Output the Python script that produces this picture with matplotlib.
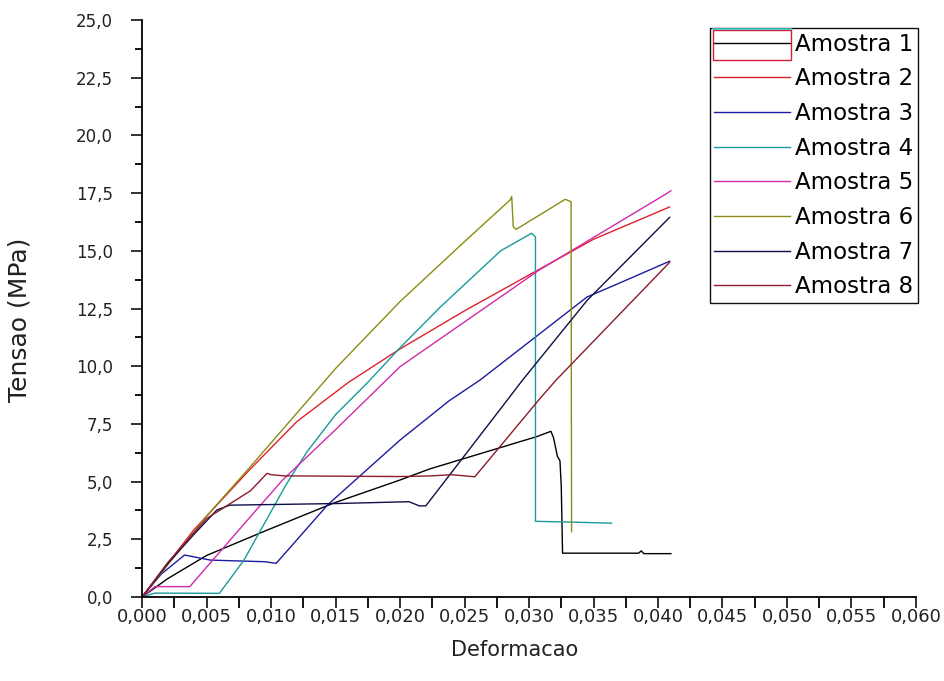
import matplotlib
matplotlib.use("Agg")
import matplotlib.pyplot as plt
from matplotlib.ticker import MultipleLocator, FuncFormatter
from matplotlib.patches import Rectangle
from matplotlib.lines import Line2D

labels = ["Amostra 1", "Amostra 2", "Amostra 3", "Amostra 4",
          "Amostra 5", "Amostra 6", "Amostra 7", "Amostra 8"]
colors = ["#000000", "#e0202e", "#1c1ca0", "#1a9a9a",
          "#d22aa8", "#8c8c12", "#0e0e4a", "#8a1c2c"]

x1 = [0, 0.002, 0.005, 0.0097, 0.0148, 0.020, 0.0223, 0.0306, 0.0317, 0.0319, 0.0322, 0.0324, 0.0325, 0.0326, 0.0385, 0.0387, 0.0389, 0.041]
y1 = [0, 0.8, 1.8, 2.9, 4.06, 5.07, 5.55, 6.95, 7.18, 6.9, 6.1, 5.9, 4.8, 1.9, 1.9, 2.0, 1.88, 1.88]

x2 = [0, 0.004, 0.0084, 0.012, 0.016, 0.020, 0.025, 0.0308, 0.035, 0.0409]
y2 = [0, 2.9, 5.55, 7.6, 9.3, 10.75, 12.4, 14.2, 15.5, 16.9]

x3 = [0, 0.0015, 0.0033, 0.0053, 0.0095, 0.0104, 0.0144, 0.020, 0.0238, 0.0262, 0.0345, 0.037, 0.0409]
y3 = [0, 1.0, 1.82, 1.6, 1.53, 1.46, 4.0, 6.8, 8.5, 9.4, 13.0, 13.6, 14.55]

x4 = [0, 0.001, 0.006, 0.0079, 0.0097, 0.0112, 0.0128, 0.015, 0.0175, 0.020, 0.0231, 0.0278, 0.0302, 0.0305, 0.0305, 0.033, 0.0364]
y4 = [0, 0.17, 0.16, 1.6, 3.4, 4.9, 6.3, 7.9, 9.3, 10.8, 12.55, 15.0, 15.76, 15.6, 3.28, 3.25, 3.2]

x5 = [0, 0.001, 0.0037, 0.0084, 0.0109, 0.015, 0.020, 0.0308, 0.0407, 0.041]
y5 = [0, 0.45, 0.45, 3.48, 5.07, 7.25, 9.98, 14.17, 17.49, 17.6]

x6 = [0, 0.005, 0.0084, 0.015, 0.020, 0.025, 0.02853, 0.02866, 0.02878, 0.029, 0.0328, 0.03326, 0.0333]
y6 = [0, 3.5, 5.65, 9.9, 12.8, 15.4, 17.2, 17.35, 16.04, 15.93, 17.23, 17.13, 2.83]

x7 = [0, 0.002, 0.004, 0.0058, 0.0068, 0.015, 0.0207, 0.0215, 0.022, 0.0282, 0.0295, 0.0345, 0.0409]
y7 = [0, 1.45, 2.7, 3.77, 3.98, 4.05, 4.13, 3.95, 3.95, 8.45, 9.4, 12.85, 16.45]

x8 = [0, 0.002, 0.005, 0.0084, 0.0097, 0.010, 0.011, 0.020, 0.0225, 0.024, 0.0258, 0.03085, 0.0321, 0.0409]
y8 = [0, 1.5, 3.4, 4.6, 5.36, 5.3, 5.25, 5.22, 5.25, 5.3, 5.21, 8.6, 9.4, 14.5]

xs = [x1, x2, x3, x4, x5, x6, x7, x8]
ys = [y1, y2, y3, y4, y5, y6, y7, y8]

fig = plt.figure(figsize=(9.45, 6.81), dpi=100)
ax = fig.add_axes([0.1503, 0.1233, 0.8190, 0.8473])

for x, y, c, lab in zip(xs, ys, colors, labels):
    ax.plot(x, y, color=c, lw=1.0, label=lab)

ax.set_xlim(0, 0.060)
ax.set_ylim(0, 25)
for s in ["top", "right"]:
    ax.spines[s].set_visible(False)
for s in ["left", "bottom"]:
    ax.spines[s].set_linewidth(1.3)

ax.xaxis.set_major_locator(MultipleLocator(0.005))
ax.xaxis.set_minor_locator(MultipleLocator(0.0025))
ax.yaxis.set_major_locator(MultipleLocator(2.5))
ax.yaxis.set_minor_locator(MultipleLocator(1.25))
ax.xaxis.set_major_formatter(FuncFormatter(lambda v, p: f"{v:.3f}".replace(".", ",")))
ax.yaxis.set_major_formatter(FuncFormatter(lambda v, p: f"{v:.1f}".replace(".", ",")))
ax.tick_params(axis="both", which="major", direction="out", length=8, width=1.3,
               colors="#222222")
ax.tick_params(axis="y", which="major", labelsize=12, pad=13)
ax.tick_params(axis="x", which="major", labelsize=13, pad=0)
ax.tick_params(axis="y", which="minor", direction="out", length=5, width=1.3)
ax.tick_params(axis="x", which="minor", direction="out", length=8, width=1.3)

ax.set_xlabel("Deformacao", fontsize=15, color="#222222")
ax.set_ylabel("Tensao (MPa)", fontsize=18, color="#222222")
ax.xaxis.set_label_coords(0.482, -0.074)
ax.yaxis.set_label_coords(-0.143, 0.48)

leg = ax.legend(loc="upper right", bbox_to_anchor=(1.003, 0.986), fontsize=16.5,
                frameon=True, fancybox=False, edgecolor="#111111", framealpha=1,
                handlelength=3.3, handletextpad=0.25, labelspacing=0.51,
                borderpad=0.2, borderaxespad=0)
leg.get_frame().set_linewidth(1.0)

# legend decoration seen in the reference: red box around first handle and a cyan stroke on top
fig.canvas.draw()
hb = leg.legend_handles[0].get_window_extent(fig.canvas.get_renderer())
fb = leg.get_frame().get_window_extent(fig.canvas.get_renderer())
W, H = fig.bbox.width, fig.bbox.height
x0 = (hb.x0 - 1) / W
x1p = (hb.x1 + 1) / W
ytop = (fb.y1 - 2) / H
ybot = (hb.y0 + (hb.y1 - hb.y0) / 2 - 17) / H
fig.patches.append(Rectangle((x0, ybot), x1p - x0, ytop - ybot, transform=fig.transFigure,
                             fill=False, edgecolor="#d0203a", lw=1.0, zorder=10))
fig.lines.append(Line2D([x0, x1p], [(fb.y1 - 1) / H] * 2, transform=fig.transFigure,
                        color="#40d0d0", lw=1.2, zorder=11))

fig.savefig("out.png", dpi=100, facecolor="white")
